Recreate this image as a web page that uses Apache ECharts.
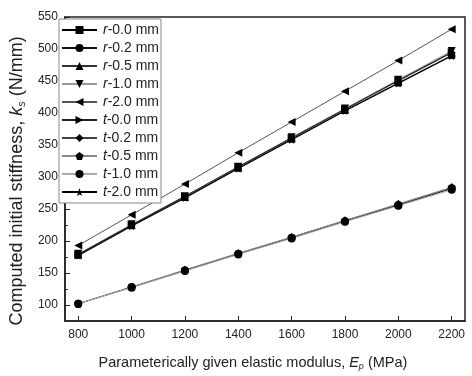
<!DOCTYPE html>
<html>
<head>
<meta charset="utf-8">
<script src="https://cdn.jsdelivr.net/npm/echarts@6/dist/echarts.min.js"></script>
<style>
  html, body { margin: 0; padding: 0; background: #fff; }
  #main { width: 472px; height: 376px; }
</style>
</head>
<body>
<div id="main"></div>
<script>
// x values (MPa)
const modulus = [800, 1000, 1200, 1400, 1600, 1800, 2000, 2200];

// stiffness values (N/mm)
const r00 = [178, 224, 268, 314, 359, 404, 447, 490];
const r02 = [102, 128, 154, 180, 205, 231, 256, 282];
const r05 = [179, 225, 269, 315, 361, 406, 450, 494];
const r10 = [180, 226, 270, 316, 362, 407, 452, 497];
const r20 = [193, 241, 289, 338, 386, 434, 482, 531];
const t00 = [179, 225, 270, 316, 361, 406, 451, 495];
const t02 = [102, 128, 154, 180, 206, 232, 257, 283];
const t05 = [102, 128, 155, 181, 206, 232, 258, 284];
const t10 = [102, 127, 153, 179, 204, 230, 255, 280];
const t20 = [177, 223, 267, 313, 358, 403, 446, 489];

const yTicks = [100, 150, 200, 250, 300, 350, 400, 450, 500, 550];
const yMinorTicks = [125, 175, 225, 275, 325, 375, 425, 475, 525];
const xTicks = [800, 1000, 1200, 1400, 1600, 1800, 2000, 2200];

const pentagon = 'path://M50,0 L97.6,34.5 L79.4,90.5 L20.6,90.5 L2.4,34.5 Z';
const star = 'path://M50,0 L61.8,35.4 L98,35.4 L69,57 L79.4,92 L50,70.5 L20.6,92 L31,57 L2,35.4 L38.2,35.4 Z';

const seriesDefs = [
  { name: 'r-0.0 mm', data: r00, symbol: 'rect', rot: 0, color: '#000' },
  { name: 'r-0.2 mm', data: r02, symbol: 'circle', rot: 0, color: '#111' },
  { name: 'r-0.5 mm', data: r05, symbol: 'triangle', rot: 0, color: '#333' },
  { name: 'r-1.0 mm', data: r10, symbol: 'triangle', rot: 180, color: '#999' },
  { name: 'r-2.0 mm', data: r20, symbol: 'triangle', rot: 90, color: '#555' },
  { name: 't-0.0 mm', data: t00, symbol: 'triangle', rot: -90, color: '#222' },
  { name: 't-0.2 mm', data: t02, symbol: 'diamond', rot: 0, color: '#444' },
  { name: 't-0.5 mm', data: t05, symbol: pentagon, rot: 0, color: '#888' },
  { name: 't-1.0 mm', data: t10, symbol: 'circle', rot: 0, color: '#aaa' },
  { name: 't-2.0 mm', data: t20, symbol: star, rot: 0, color: '#000' }
];

const font = 'Liberation Sans, Arial, sans-serif';
const chart = echarts.init(document.getElementById('main'));

chart.setOption({
  animation: false,
  backgroundColor: '#fff',
  grid: {
    left: 51, right: 7, top: 17, bottom: 51,
    show: true, borderColor: '#222', borderWidth: 1.5
  },
  legend: {
    orient: 'vertical',
    left: 59, top: 19,
    padding: [3, 2, 3, 2],
    itemWidth: 35,
    itemHeight: 10,
    itemGap: 2,
    borderColor: '#888',
    borderWidth: 1,
    backgroundColor: '#fff',
    data: seriesDefs.map(s => s.name),
    formatter: name => '{i|' + name.charAt(0) + '}' + name.slice(1),
    textStyle: {
      fontFamily: font, fontSize: 14, color: '#222', lineHeight: 16, padding: [0, 0, 0, 1],
      rich: { i: { fontFamily: font, fontSize: 14, lineHeight: 16, fontStyle: 'italic', color: '#222' } }
    }
  },
  xAxis: {
    type: 'value',
    min: 750, max: 2250,
    name: 'Parameterically given elastic modulus, {i|E}{sub|p} (MPa)',
    nameLocation: 'middle',
    nameGap: 33,
    nameTextStyle: {
      fontFamily: font, fontSize: 14.5, color: '#222', padding: [0, 24, 0, 0],
      rich: {
        i: { fontFamily: font, fontSize: 14.5, fontStyle: 'italic', color: '#222' },
        sub: { fontFamily: font, fontSize: 9, fontStyle: 'italic', color: '#222', padding: [8, 0, 0, 0] }
      }
    },
    axisLine: { lineStyle: { color: '#222', width: 1.5 } },
    axisTick: { inside: true, length: 5, customValues: xTicks, lineStyle: { color: '#222' } },
    axisLabel: {
      customValues: xTicks, fontFamily: font, fontSize: 12, color: '#222', margin: 8,
      formatter: v => String(v)
    },
    splitLine: { show: false }
  },
  yAxis: [
    {
      type: 'value',
      min: 75, max: 550,
      name: 'Computed initial stiffness, {i|k}{sub|s} (N/mm)',
      nameLocation: 'middle',
      nameGap: 34,
      nameTextStyle: {
        fontFamily: font, fontSize: 18, color: '#222', padding: [0, 24, 0, 0],
        rich: {
          i: { fontFamily: font, fontSize: 18, fontStyle: 'italic', color: '#222' },
          sub: { fontFamily: font, fontSize: 11, fontStyle: 'italic', color: '#222', padding: [9, 0, 0, 0] }
        }
      },
      axisLine: { show: true, lineStyle: { color: '#222', width: 1.5 } },
      axisTick: { inside: true, length: 5, customValues: yTicks, lineStyle: { color: '#222' } },
      axisLabel: { customValues: yTicks, fontFamily: font, fontSize: 12, color: '#222', margin: 7 },
      splitLine: { show: false }
    },
    {
      type: 'value',
      position: 'left',
      min: 75, max: 550,
      axisLine: { show: false },
      axisTick: { inside: true, length: 3, customValues: yMinorTicks, lineStyle: { color: '#222' } },
      axisLabel: { show: false },
      splitLine: { show: false }
    }
  ],
  series: seriesDefs.map(s => ({
    name: s.name,
    type: 'line',
    data: modulus.map((x, i) => [x, s.data[i]]),
    symbol: s.symbol,
    symbolRotate: s.rot,
    symbolSize: s.symbol === 'rect' ? 7 : 8,
    itemStyle: { color: '#000' },
    lineStyle: { color: s.color, width: 1 },
    yAxisIndex: 0
  }))
});
</script>
</body>
</html>
